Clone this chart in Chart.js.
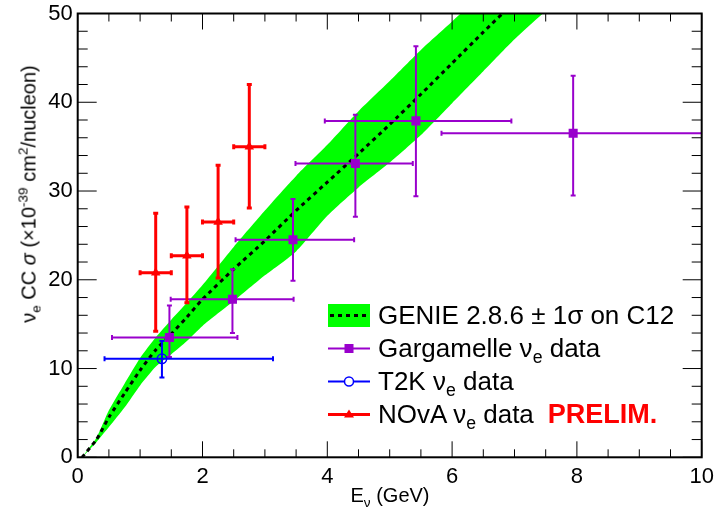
<!DOCTYPE html>
<html>
<head>
<meta charset="utf-8">
<script src="https://cdn.jsdelivr.net/npm/chart.js@4.4.1/dist/chart.umd.min.js"></script>
<style>
body { margin: 0; background: #fff; }
#wrap { position: relative; width: 714px; height: 510px; font-family: 'Liberation Sans', Arial, sans-serif; color: #000; }
#chart { position: absolute; left: 0; top: 0; }
sub, sup { font-size: 68%; line-height: 0; }
.ytitle { position: absolute; left: 29px; top: 194px; transform: translate(-50%, -50%) rotate(-90deg); font-size: 20px; white-space: nowrap; }
.xtitle { position: absolute; left: 390px; top: 495px; transform: translate(-50%, -50%); font-size: 20px; white-space: nowrap; }
#legend { position: absolute; left: 328px; top: 299px; font-size: 26px; }
.row { height: 33px; display: flex; align-items: center; white-space: nowrap; }
.row svg { width: 42px; height: 33px; margin-right: 8px; flex: none; }
.prelim { color: #f00; font-weight: bold; font-size: 27px; margin-left: 14px; }
</style>
</head>
<body>
<div id="wrap">
  <canvas id="chart" width="714" height="510"></canvas>
  <div class="ytitle">&nu;<sub>e</sub> CC <i>&sigma;</i> (&times;10<sup>-39</sup> cm<sup>2</sup>/nucleon)</div>
  <div class="xtitle">E<sub>&nu;</sub> (GeV)</div>
  <div id="legend">
    <div class="row">
      <svg viewBox="0 0 42 33"><rect x="0" y="5" width="42" height="23" fill="#00ff00"/><line x1="2" y1="16.5" x2="40" y2="16.5" stroke="#000" stroke-width="3" stroke-dasharray="4 4"/></svg>
      <span>GENIE 2.8.6 &plusmn; 1&sigma; on C12</span>
    </div>
    <div class="row">
      <svg viewBox="0 0 42 33"><line x1="0" y1="16.5" x2="42" y2="16.5" stroke="#9900cc" stroke-width="2"/><rect x="16.5" y="12" width="9" height="9" fill="#9900cc"/></svg>
      <span>Gargamelle &nu;<sub>e</sub> data</span>
    </div>
    <div class="row">
      <svg viewBox="0 0 42 33"><line x1="0" y1="16.5" x2="42" y2="16.5" stroke="#0000ff" stroke-width="2"/><circle cx="21" cy="16.5" r="4.5" fill="#fff" stroke="#0000ff" stroke-width="1.5"/></svg>
      <span>T2K &nu;<sub>e</sub> data</span>
    </div>
    <div class="row">
      <svg viewBox="0 0 42 33"><line x1="0" y1="16.5" x2="42" y2="16.5" stroke="#ff0000" stroke-width="3"/><polygon points="21,11.5 26,19.5 16,19.5" fill="#ff0000"/></svg>
      <span>NOvA &nu;<sub>e</sub> data</span><span class="prelim">PRELIM.</span>
    </div>
  </div>
</div>
<script>
// GENIE prediction: central value and the +-1 sigma band edges
const genieE     = [0.07, 0.3, 0.5, 0.75, 1.0, 1.25, 1.5, 1.75, 2.0, 2.5, 3.0, 3.5, 4.0, 4.5, 5.0, 5.5, 6.0, 6.5, 7.0, 7.5];
const genieSigma = [0, 2.0, 4.5, 7.2, 9.8, 12.1, 13.9, 15.8, 17.8, 21.2, 24.4, 27.8, 31.0, 34.2, 37.5, 40.9, 44.4, 47.9, 51.3, 54.7];
const genieHigh  = [0, 2.2, 5.3, 8.3, 11.2, 13.5, 15.5, 17.4, 19.4, 23.7, 27.8, 31.7, 35.2, 39.0, 42.4, 45.9, 49.1, 52.4, 55.8, 59.0];
const genieLow   = [0, 1.7, 3.4, 5.6, 8.1, 10.2, 11.6, 13.1, 14.8, 17.6, 20.5, 23.2, 27.2, 30.4, 33.2, 36.3, 39.9, 43.5, 47.1, 50.3];

// Gargamelle
const gargE      = [1.47, 2.48, 3.45, 4.45, 5.42, 7.94];
const gargSigma  = [13.5, 17.8, 24.5, 33.1, 37.9, 36.5];
const gargElo    = [0.55, 1.49, 2.53, 3.49, 3.96, 5.83];
const gargEhi    = [2.56, 3.46, 4.43, 5.37, 6.95, 10.05];
const gargSigLo  = [11.3, 14.0, 19.9, 27.1, 29.4, 29.5];
const gargSigHi  = [17.1, 21.2, 29.1, 38.6, 46.3, 43.0];

// T2K
const t2kE       = [1.35];
const t2kSigma   = [11.1];
const t2kElo     = [0.43];
const t2kEhi     = [3.13];
const t2kSigLo   = [9.0];
const t2kSigHi   = [13.1];

// NOvA (preliminary)
const novaE      = [1.25, 1.75, 2.25, 2.75];
const novaSigma  = [20.8, 22.7, 26.5, 35.0];
const novaElo    = [1.0, 1.5, 2.0, 2.5];
const novaEhi    = [1.5, 2.0, 2.5, 3.0];
const novaSigLo  = [14.2, 17.4, 20.2, 28.1];
const novaSigHi  = [27.5, 28.2, 32.9, 42.0];

const xMajor = 2, yMajor = 10;

const toXY = (xs, ys) => xs.map((v, i) => ({ x: v, y: ys[i] }));
const pairs = (lo, hi) => lo.map((v, i) => [v, hi[i]]);

// error bars with small end caps, drawn right before each data set's markers
const errorBars = {
  id: 'errorBars',
  beforeDatasetDraw(chart, args) {
    const ds = chart.data.datasets[args.index];
    if (!ds.errX) return;
    const { ctx, chartArea: a, scales: { x, y } } = chart;
    const cap = ds.capSize;
    ctx.save();
    ctx.beginPath();
    ctx.rect(a.left, a.top, a.right - a.left, a.bottom - a.top);
    ctx.clip();
    ctx.strokeStyle = ds.borderColor;
    ctx.lineWidth = ds.barWidth;
    ds.data.forEach((p, i) => {
      const px = x.getPixelForValue(p.x), py = y.getPixelForValue(p.y);
      const x0 = x.getPixelForValue(ds.errX[i][0]), x1 = x.getPixelForValue(ds.errX[i][1]);
      const y0 = y.getPixelForValue(ds.errY[i][0]), y1 = y.getPixelForValue(ds.errY[i][1]);
      ctx.beginPath();
      ctx.moveTo(x0, py); ctx.lineTo(x1, py);
      ctx.moveTo(px, y0); ctx.lineTo(px, y1);
      ctx.moveTo(x0, py - cap); ctx.lineTo(x0, py + cap);
      ctx.moveTo(x1, py - cap); ctx.lineTo(x1, py + cap);
      ctx.moveTo(px - cap, y0); ctx.lineTo(px + cap, y0);
      ctx.moveTo(px - cap, y1); ctx.lineTo(px + cap, y1);
      ctx.stroke();
    });
    ctx.restore();
  }
};

// frame with inward ticks on all four sides
const rootFrame = {
  id: 'rootFrame',
  afterDatasetsDraw(chart) {
    const { ctx, chartArea: a, scales: { x, y } } = chart;
    ctx.save();
    ctx.strokeStyle = '#000';
    ctx.lineWidth = 1;
    ctx.beginPath();
    x.ticks.forEach(t => {
      const px = x.getPixelForValue(t.value);
      const len = Math.abs(t.value % xMajor) < 1e-6 ? 16 : 8;
      ctx.moveTo(px, a.bottom); ctx.lineTo(px, a.bottom - len);
      ctx.moveTo(px, a.top); ctx.lineTo(px, a.top + len);
    });
    y.ticks.forEach(t => {
      const py = y.getPixelForValue(t.value);
      const len = Math.abs(t.value % yMajor) < 1e-6 ? 19 : 10;
      ctx.moveTo(a.left, py); ctx.lineTo(a.left + len, py);
      ctx.moveTo(a.right, py); ctx.lineTo(a.right - len, py);
    });
    ctx.stroke();
    ctx.lineWidth = 2;
    ctx.strokeRect(a.left, a.top, a.right - a.left, a.bottom - a.top);
    ctx.restore();
  }
};

Chart.defaults.font.family = "'Liberation Sans', Arial, sans-serif";
Chart.defaults.font.size = 22;
Chart.defaults.color = '#000';

new Chart(document.getElementById('chart'), {
  type: 'scatter',
  data: {
    datasets: [
      {
        type: 'line', data: toXY(genieE, genieHigh), fill: '+1',
        backgroundColor: '#00ff00', borderWidth: 0, pointRadius: 0, tension: 0.2, order: 10
      },
      {
        type: 'line', data: toXY(genieE, genieLow), fill: false,
        borderWidth: 0, pointRadius: 0, tension: 0.2, order: 9
      },
      {
        type: 'line', data: toXY(genieE, genieSigma), fill: false,
        borderColor: '#000', borderWidth: 3, borderDash: [4, 4], pointRadius: 0, tension: 0.2, order: 8
      },
      {
        data: toXY(gargE, gargSigma), errX: pairs(gargElo, gargEhi), errY: pairs(gargSigLo, gargSigHi),
        borderColor: '#9900cc', backgroundColor: '#9900cc', barWidth: 2, capSize: 2.5,
        pointStyle: 'rect', pointRadius: 6.4, pointBorderWidth: 0, order: 3
      },
      {
        data: toXY(t2kE, t2kSigma), errX: pairs(t2kElo, t2kEhi), errY: pairs(t2kSigLo, t2kSigHi),
        borderColor: '#0000ff', backgroundColor: 'rgba(0,0,0,0)', barWidth: 2, capSize: 2.5,
        pointStyle: 'circle', pointRadius: 4.7, pointBorderWidth: 1.5, order: 2
      },
      {
        data: toXY(novaE, novaSigma), errX: pairs(novaElo, novaEhi), errY: pairs(novaSigLo, novaSigHi),
        borderColor: '#ff0000', backgroundColor: '#ff0000', barWidth: 3, capSize: 2.5,
        pointStyle: 'triangle', pointRadius: 5.5, pointBorderWidth: 0, order: 1
      }
    ]
  },
  options: {
    responsive: false,
    animation: false,
    events: [],
    layout: { padding: { left: 0, top: 13.5, right: 12.3, bottom: 0 } },
    plugins: { legend: { display: false }, tooltip: { enabled: false } },
    scales: {
      x: {
        type: 'linear', min: 0, max: 10,
        grid: { display: false, drawTicks: false }, border: { display: false },
        ticks: {
          stepSize: 0.5, autoSkip: false, maxRotation: 0, padding: 6,
          callback: v => Math.abs(v % xMajor) < 1e-6 ? v : ''
        },
        // keep the frame where the layout padding puts it
        afterFit: s => { s.height = 52.7; s.paddingLeft = 0; s.paddingRight = 0; }
      },
      y: {
        type: 'linear', min: 0, max: 50,
        grid: { display: false, drawTicks: false }, border: { display: false },
        ticks: {
          stepSize: 2, autoSkip: false, padding: 5,
          callback: v => Math.abs(v % yMajor) < 1e-6 ? v : ''
        },
        afterFit: s => { s.width = 77.7; s.paddingTop = 0; s.paddingBottom = 0; }
      }
    }
  },
  plugins: [errorBars, rootFrame]
});
</script>
</body>
</html>
